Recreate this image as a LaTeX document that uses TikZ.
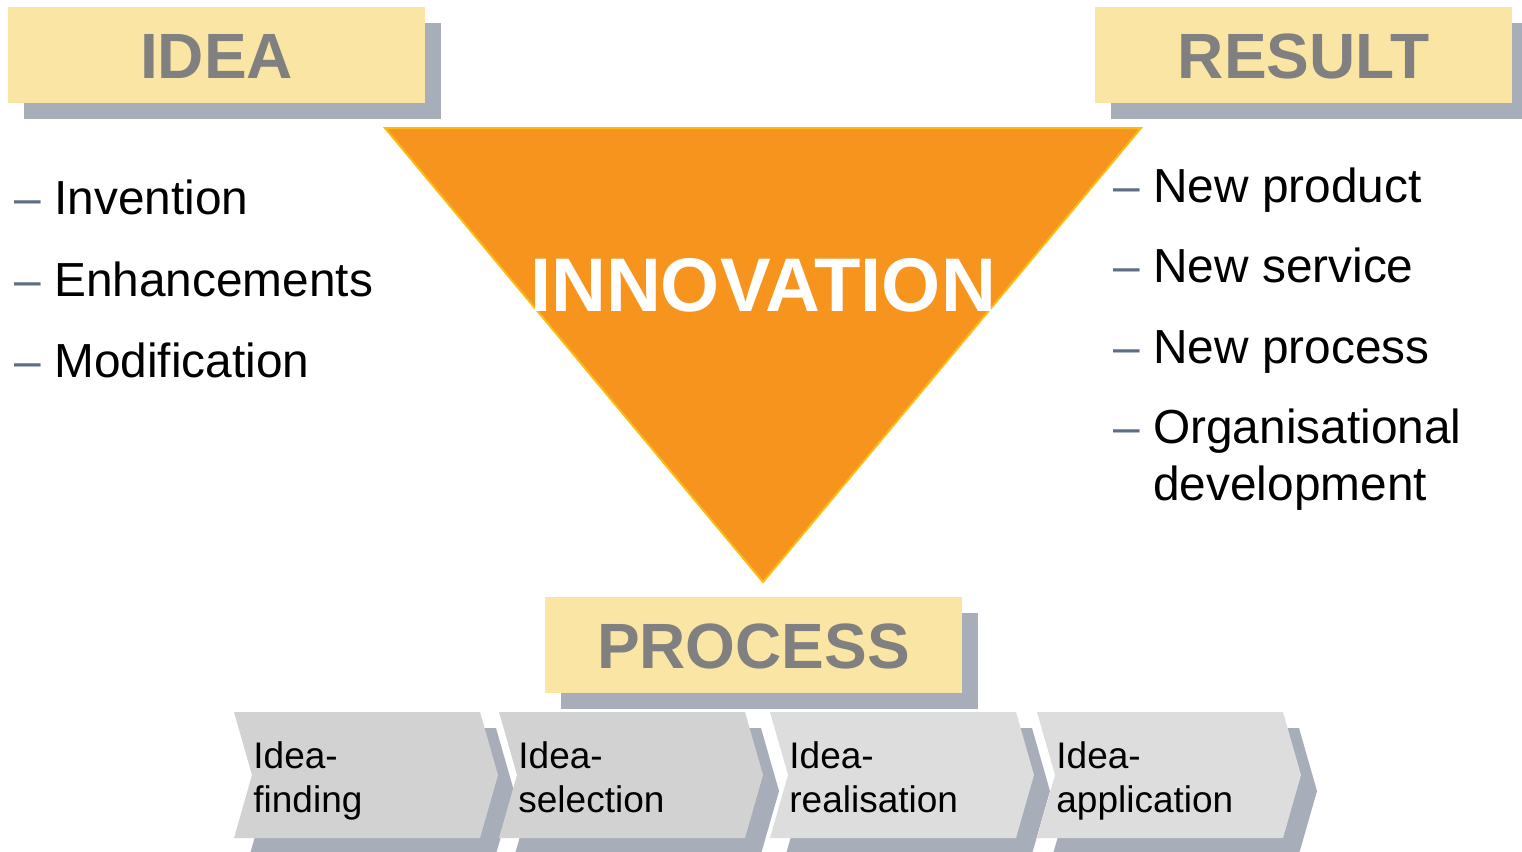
\documentclass[tikz,border=0pt]{standalone}
\usepackage{fontspec}
\setmainfont{Liberation Sans}
\definecolor{boxyellow}{HTML}{FAE5A5}
\definecolor{shadowgray}{HTML}{A7AEB9}
\definecolor{innoorange}{HTML}{F7941E}
\definecolor{innoborder}{HTML}{FDBA12}
\definecolor{labelgray}{HTML}{808080}
\definecolor{dashblue}{HTML}{5E6E85}
\definecolor{chevdark}{HTML}{D2D2D2}
\definecolor{chevlight}{HTML}{DDDDDD}
\begin{document}
\begin{tikzpicture}[x=0.5pt,y=-0.5pt,
  headbox/.style={fill=boxyellow, draw=none, inner sep=0pt,
    minimum width=208.5pt, minimum height=48pt,
    font=\fontsize{32}{38}\selectfont\bfseries, text=labelgray,
    text height=23pt, text depth=0pt},
  headshadow/.style={fill=shadowgray},
  bullettext/.style={anchor=base west, inner sep=0pt,
    font=\fontsize{23.9}{28.5}\selectfont},
  steptext/.style={anchor=base west, inner sep=0pt,
    font=\fontsize{18.5}{22}\selectfont},
  innotext/.style={anchor=base, inner sep=0pt, text=white,
    font=\fontsize{38}{44}\selectfont\bfseries},
  triangle/.style={fill=innoorange, draw=innoborder, line width=1pt, line join=miter}
]
\useasboundingbox (0,0) rectangle (1522,852);

% head boxes with shadows
\fill[headshadow] (24,23) rectangle (441,119);
\node[headbox] (idea) at (216.5,55) {IDEA};
\fill[headshadow] (1111,23) rectangle (1528,119);
\node[headbox] (result) at (1303.5,55) {RESULT};

% triangle
\coordinate (tl) at (385,128);
\coordinate (tr) at (1141,128);
\coordinate (tb) at (763,582);
\draw[triangle] (tl) -- (tr) -- (tb) -- cycle;
\node[innotext] (inno) at (763,311) {INNOVATION};

% process box
\fill[headshadow] (561,613) rectangle (978,709);
\node[headbox] (process) at (753.5,645) {PROCESS};

% left bullets
\node[bullettext] (l1) at (14,214) {\textcolor{dashblue}{–} Invention};
\node[bullettext] (l2) at (14,296) {\textcolor{dashblue}{–} Enhancements};
\node[bullettext] (l3) at (14,377) {\textcolor{dashblue}{–} Modification};

% right bullets
\node[bullettext] (r1) at (1113,202) {\textcolor{dashblue}{–} New product};
\node[bullettext] (r2) at (1113,282) {\textcolor{dashblue}{–} New service};
\node[bullettext] (r3) at (1113,363) {\textcolor{dashblue}{–} New process};
\node[bullettext] (r4) at (1113,443) {\begin{tabular}[t]{@{}l@{}}\textcolor{dashblue}{–} Organisational\\\phantom{–\ }development\end{tabular}};

% process chevrons
\foreach \xx/\cc/\nn/\aa/\bb in {234/chevdark/1/Idea-/finding,
                                 499/chevdark/2/Idea-/selection,
                                 770/chevlight/3/Idea-/realisation,
                                 1037/chevlight/4/Idea-/application}{
  \fill[headshadow] (\xx+16,728) -- ++(246,0) -- ++(18,63) -- ++(-18,63) -- ++(-246,0) -- ++(18,-63) -- cycle;
  \fill[\cc] (\xx,712) -- ++(246,0) -- ++(18,63) -- ++(-18,63) -- ++(-246,0) -- ++(18,-63) -- cycle;
  \node[steptext] (step\nn) at (\xx+19,768) {\begin{tabular}[t]{@{}l@{}}\aa\\\bb\end{tabular}};
}
\end{tikzpicture}
\end{document}
